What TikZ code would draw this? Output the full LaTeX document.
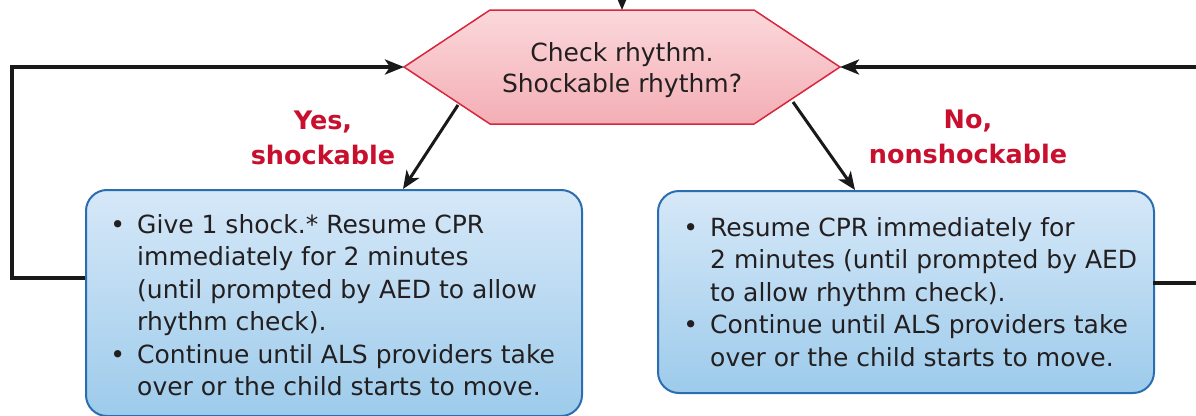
\documentclass[tikz,border=0pt]{standalone}
\usepackage{fontspec}
\setmainfont{DejaVu Sans}
\usetikzlibrary{arrows.meta}
\definecolor{txtgray}{HTML}{231F20}
\definecolor{lblred}{HTML}{C8102E}
\definecolor{hexborder}{HTML}{D7263D}
\definecolor{hextop}{HTML}{FBD8DB}
\definecolor{hexbot}{HTML}{F3AEB5}
\definecolor{boxborder}{HTML}{2A6DB0}
\definecolor{boxtop}{HTML}{D6E8F8}
\definecolor{boxbot}{HTML}{9DCBEB}
\begin{document}
\begin{tikzpicture}[x=1pt,y=-1pt,
  bluebox/.style={draw=boxborder, line width=2pt, rounded corners=21pt,
    top color=boxtop, bottom color=boxbot, inner sep=0pt},
  boxtext/.style={inner sep=0pt, align=left, text=txtgray,
    font=\fontsize{25}{32.5}\selectfont},
  qtext/.style={inner sep=0pt, align=center, text=txtgray,
    font=\fontsize{25}{31.5}\selectfont},
  lbl/.style={inner sep=0pt, align=center, text=lblred,
    font=\fontsize{25.5}{34.5}\selectfont\bfseries},
  arr/.style={draw=black!90, line width=3pt,
    -{Stealth[length=18pt,width=15pt,inset=5pt]}},
  looparr/.style={draw=black!90, line width=3.6pt,
    -{Stealth[length=19pt,width=15pt,inset=5pt]}},
  loopline/.style={draw=black!90, line width=3.6pt}
]
\useasboundingbox (0,0) rectangle (1196,415);

% hexagon
\coordinate (hexL) at (404,67);
\coordinate (hexTL) at (490,10);
\coordinate (hexTR) at (754,10);
\coordinate (hexR) at (840,67);
\coordinate (hexBR) at (754,124);
\coordinate (hexBL) at (490,124);
\coordinate (hexT) at (622,10);
\shade[top color=hextop, bottom color=hexbot, draw=hexborder, line width=1.5pt, line join=miter]
  (hexL) -- (hexTL) -- (hexTR) -- (hexR) -- (hexBR) -- (hexBL) -- cycle;
\node[qtext, anchor=north] (chk) at (622,42) {Check rhythm.\\Shockable rhythm?};

% boxes
\node[bluebox, minimum width=496pt, minimum height=226pt, anchor=north west] (lbox) at (85,189) {};
\node[bluebox, minimum width=496pt, minimum height=202pt, anchor=north west] (rbox) at (657,190) {};

\node[boxtext, anchor=north west] (ltext) at (137,214) {%
\llap{\textbullet\hspace{12pt}}Give 1 shock.* Resume CPR\\
immediately for 2 minutes\\
(until prompted by AED to allow\\
rhythm check).\\
\llap{\textbullet\hspace{12pt}}Continue until ALS providers take\\
over or the child starts to move.};

\node[boxtext, anchor=north west] (rtext) at (710,217) {%
\llap{\textbullet\hspace{12pt}}Resume CPR immediately for\\
2 minutes (until prompted by AED\\
to allow rhythm check).\\
\llap{\textbullet\hspace{12pt}}Continue until ALS providers take\\
over or the child starts to move.};

% labels
\node[lbl, anchor=north] (yes) at (323,111) {Yes,\\shockable};
\node[lbl, anchor=north] (no) at (968,110) {No,\\nonshockable};

% connectors
\coordinate (topin) at (622,-30);
\draw[arr] (topin) -- (hexT);

\coordinate (hexLo) at (458,105);
\coordinate (lboxin) at (403,189);
\draw[arr] (hexLo) -- (lboxin);

\coordinate (hexRo) at (793,102);
\coordinate (rboxin) at (855,190);
\draw[arr] (hexRo) -- (rboxin);

\coordinate (lout) at (85,278);
\draw[looparr] (lout) -- (12,278) -- (12,67) -- (hexL);

\coordinate (rout) at (1153,283);
\coordinate (offright) at (1230,283);
\draw[loopline] (rout) -- (offright);
\coordinate (offright2) at (1230,67);
\draw[looparr] (offright2) -- (hexR);
\end{tikzpicture}
\end{document}
